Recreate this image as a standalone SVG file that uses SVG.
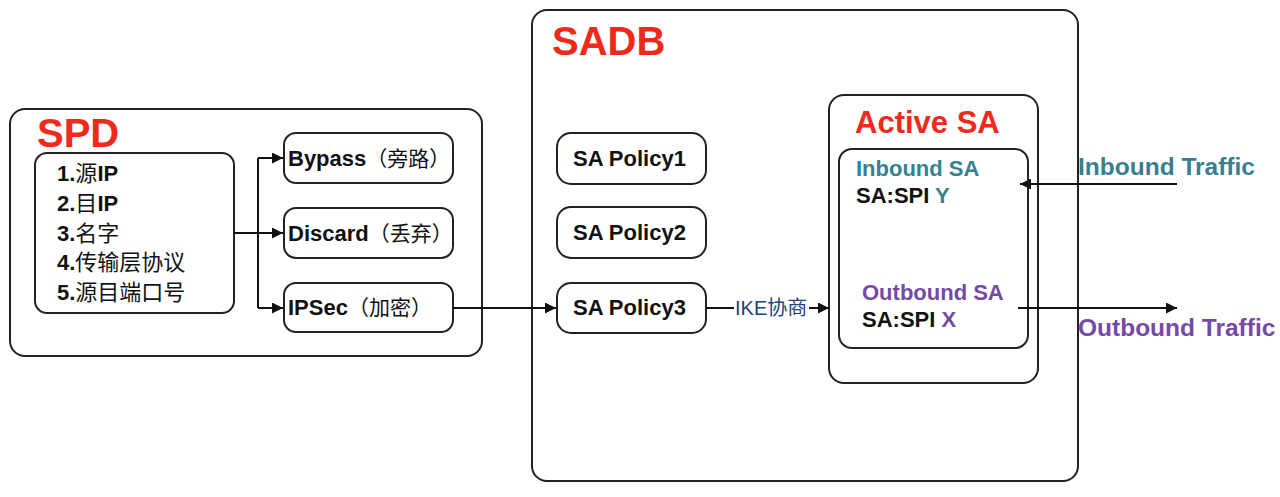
<svg xmlns="http://www.w3.org/2000/svg" width="1280" height="497" viewBox="0 0 1280 497">
<style>
.box{fill:#fff;stroke:#222;stroke-width:2}
.t{font-family:"Liberation Sans",Arial,"Noto Sans CJK SC",sans-serif;font-weight:bold;fill:#111}
.cjk{font-family:"Noto Sans CJK SC",sans-serif;font-weight:normal}
.title{font-family:"Liberation Sans",Arial,sans-serif;font-weight:bold;fill:#F02A1A}
.teal{fill:#37808F}
.purple{fill:#7549A6}
.conn{fill:none;stroke:#111;stroke-width:2}
</style>
<defs>
<marker id="arr" viewBox="0 0 10 10" refX="10" refY="5" markerWidth="6" markerHeight="5.5" orient="auto" markerUnits="strokeWidth">
<path d="M0,0 L10,5 L0,10 z" fill="#111"/>
</marker>
</defs>
<rect width="1280" height="497" fill="#fff"/>

<g id="spd">
<rect class="box" x="10" y="109" width="472" height="247" rx="15"/>
<text class="title" x="37" y="147" font-size="40">SPD</text>
</g>
<g id="selectors">
<rect class="box" x="35" y="153" width="199" height="160" rx="12"/>
<text class="t" font-size="22">
<tspan x="57" y="181">1.<tspan class="cjk">源</tspan>IP</tspan>
<tspan x="57" y="211">2.<tspan class="cjk">目</tspan>IP</tspan>
<tspan x="57" y="240.5">3.<tspan class="cjk">名字</tspan></tspan>
<tspan x="57" y="270">4.<tspan class="cjk">传输层协议</tspan></tspan>
<tspan x="57" y="299.5">5.<tspan class="cjk">源目端口号</tspan></tspan>
</text>
</g>
<g id="bypass">
<rect class="box" x="284" y="133" width="169" height="50" rx="12"/>
<text class="t" x="288" y="165.5" font-size="22">Bypass<tspan class="cjk" font-size="21">（旁路）</tspan></text>
</g>
<g id="discard">
<rect class="box" x="284" y="208" width="169" height="50" rx="12"/>
<text class="t" x="288" y="240.5" font-size="22">Discard<tspan class="cjk" font-size="21">（丢弃）</tspan></text>
</g>
<g id="ipsec">
<rect class="box" x="284" y="283" width="169" height="49" rx="12"/>
<text class="t" x="288" y="315" font-size="22">IPSec<tspan class="cjk" font-size="21">（加密）</tspan></text>
</g>

<g id="sadb">
<rect class="box" x="532" y="10" width="546" height="471" rx="15"/>
<text class="title" x="552" y="55" font-size="40">SADB</text>
</g>
<g id="policy1">
<rect class="box" x="557" y="133" width="149" height="51" rx="14"/>
<text class="t" x="573" y="166" font-size="22">SA Policy1</text>
</g>
<g id="policy2">
<rect class="box" x="557" y="207" width="149" height="51" rx="14"/>
<text class="t" x="573" y="240" font-size="22">SA Policy2</text>
</g>
<g id="policy3">
<rect class="box" x="557" y="283" width="149" height="50" rx="14"/>
<text class="t" x="573" y="315" font-size="22">SA Policy3</text>
</g>
<g id="activesa">
<rect class="box" x="829" y="95" width="209" height="288" rx="15"/>
<text class="title" x="855" y="133" font-size="31">Active SA</text>
</g>
<g id="sapair">
<rect class="box" x="839" y="149" width="189" height="199" rx="13"/>
<text class="t teal" x="856" y="176" font-size="22">Inbound SA</text>
<text class="t" x="856" y="203" font-size="22">SA:SPI <tspan class="teal">Y</tspan></text>
<text class="t purple" x="862" y="300" font-size="22">Outbound SA</text>
<text class="t" x="862" y="327" font-size="22">SA:SPI <tspan class="purple">X</tspan></text>
</g>
<g id="inbound-traffic">
<text class="t teal" x="1078" y="175" font-size="24.5">Inbound Traffic</text>
</g>
<g id="outbound-traffic">
<text class="t purple" x="1078" y="336" font-size="24.5">Outbound Traffic</text>
</g>

<g id="connectors">
<path class="conn" d="M234,233 H258"/>
<path class="conn" d="M258,158 V308"/>
<path class="conn" d="M258,158 H283" marker-end="url(#arr)"/>
<path class="conn" d="M258,233 H283" marker-end="url(#arr)"/>
<path class="conn" d="M258,308 H283" marker-end="url(#arr)"/>
<path class="conn" d="M453,308 H556" marker-end="url(#arr)"/>
<path class="conn" d="M706,308 H734"/>
<path class="conn" d="M809,308 H829" marker-end="url(#arr)"/>
<text x="735" y="315" font-size="20" font-family="'Liberation Sans',Arial,'Noto Sans CJK SC',sans-serif" fill="#24417A">IKE协商</text>
<path class="conn" d="M1177,184 H1020" marker-end="url(#arr)"/>
<path class="conn" d="M1018,308 H1177" marker-end="url(#arr)"/>
</g>
</svg>
